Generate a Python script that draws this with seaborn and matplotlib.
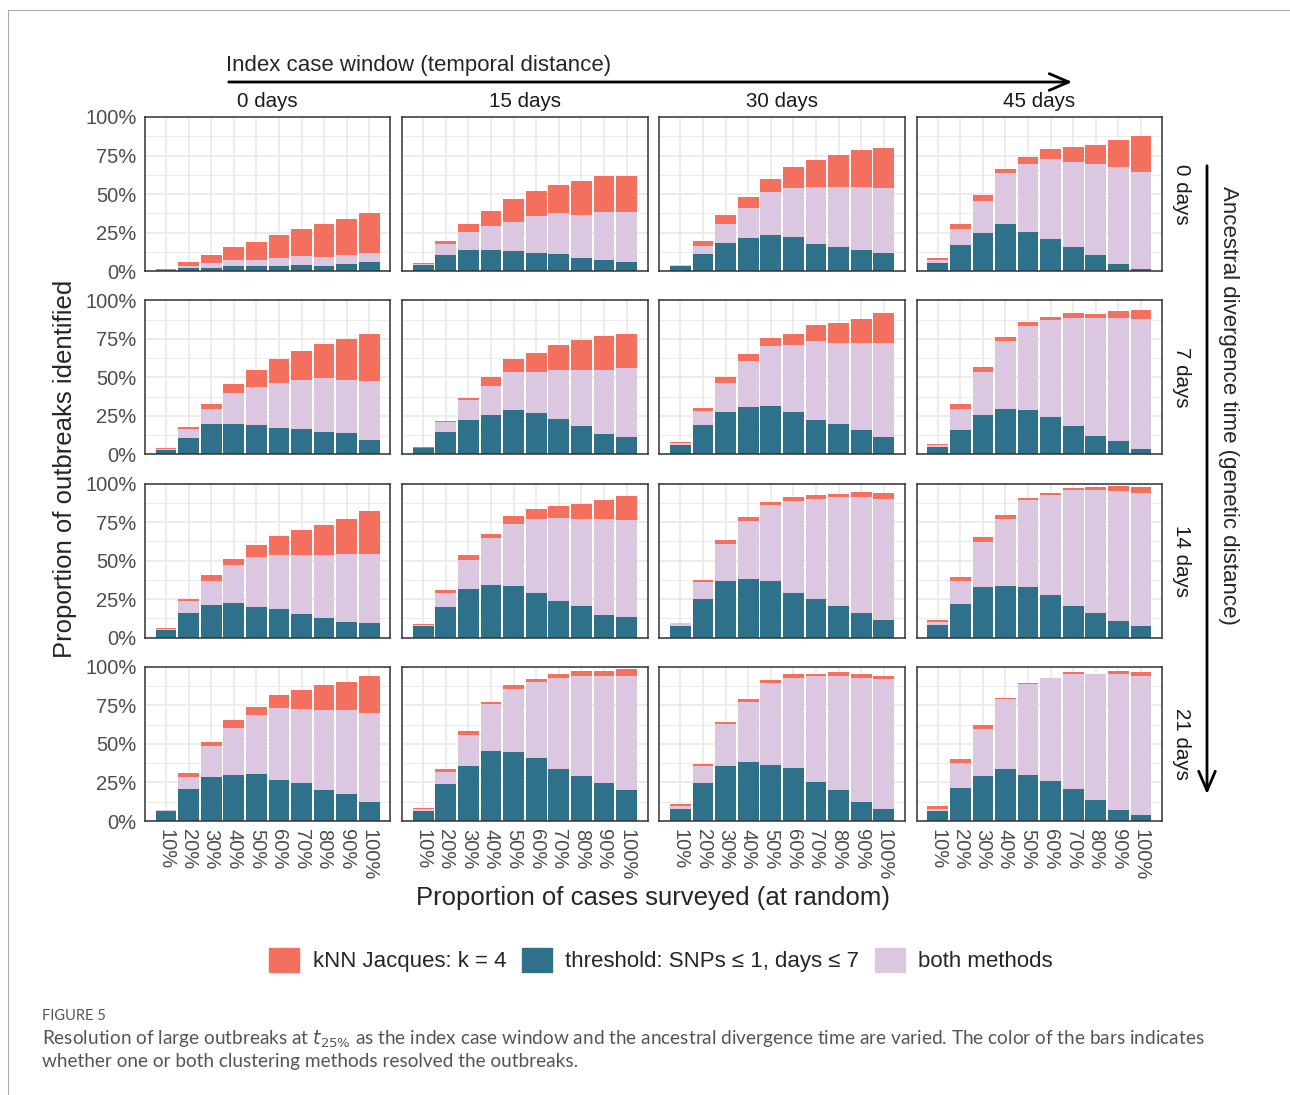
import matplotlib
matplotlib.use('Agg')
import matplotlib.pyplot as plt
import seaborn as sns
import pandas as pd
from matplotlib.patches import Patch, FancyArrowPatch
from matplotlib.lines import Line2D

sns.set_style('whitegrid')
plt.rcParams['font.family'] = ['Liberation Sans', 'DejaVu Sans']

windows = ['0 days', '15 days', '30 days', '45 days']          # index case window (columns)
divergences = ['0 days', '7 days', '14 days', '21 days']       # ancestral divergence (rows)
surveyed = ['10%', '20%', '30%', '40%', '50%', '60%', '70%', '80%', '90%', '100%']

# cumulative tops of each stacked segment (% of outbreaks), one list per window
# threshold only (bottom)
thr_div0 = [[0.5, 2.4, 2.4, 3.5, 3.5, 3.5, 4.1, 3.5, 4.8, 6.1],
            [4.1, 10.7, 13.9, 13.9, 13.3, 12.0, 11.3, 8.7, 7.4, 6.1],
            [3.5, 11.3, 18.5, 21.8, 23.7, 22.4, 17.9, 15.9, 13.9, 12.0],
            [5.4, 17.2, 25.1, 30.9, 25.7, 21.1, 15.9, 10.7, 4.8, 1.5]]
thr_div7 = [[2.8, 10.7, 19.8, 19.8, 19.2, 17.2, 16.6, 14.6, 13.9, 9.4],
            [4.1, 14.6, 22.4, 25.7, 29.0, 27.0, 23.1, 18.5, 13.3, 11.3],
            [6.1, 19.2, 27.7, 30.9, 31.6, 27.7, 22.4, 19.8, 15.9, 11.3],
            [4.8, 15.9, 25.7, 29.6, 29.0, 24.4, 18.5, 12.0, 8.7, 3.5]]
thr_div14 = [[5.2, 16.3, 21.5, 22.8, 20.2, 18.9, 15.7, 13.0, 10.4, 9.8],
             [7.8, 20.2, 31.3, 33.9, 33.3, 29.3, 24.1, 20.9, 15.0, 13.7],
             [7.8, 25.4, 36.5, 37.8, 36.5, 28.7, 24.8, 20.9, 16.3, 11.7],
             [8.5, 22.2, 32.6, 33.3, 32.6, 28.0, 20.9, 16.3, 11.1, 7.8]]
thr_div21 = [[6.8, 20.5, 28.3, 29.6, 30.3, 26.4, 24.4, 19.8, 17.2, 12.0],
             [6.8, 23.7, 35.5, 45.3, 44.7, 40.7, 33.6, 29.0, 24.4, 19.8],
             [8.1, 24.4, 35.5, 38.1, 36.2, 34.2, 25.1, 19.8, 12.0, 8.1],
             [6.8, 21.1, 29.0, 33.6, 29.6, 25.7, 20.5, 13.9, 7.4, 4.1]]

# threshold + both methods
both_div0 = [[0.8, 3.5, 5.4, 7.4, 7.4, 8.7, 10.0, 9.4, 10.7, 12.0],
             [4.4, 17.9, 25.7, 29.0, 32.2, 35.5, 37.5, 36.2, 38.1, 38.1],
             [4.1, 16.6, 30.9, 40.7, 51.2, 53.8, 54.5, 54.5, 54.5, 53.8],
             [7.4, 27.7, 45.3, 63.6, 69.5, 72.8, 70.8, 69.5, 67.5, 64.3]]
both_div7 = [[3.5, 16.6, 29.6, 40.1, 44.0, 46.6, 48.6, 49.9, 48.6, 47.9],
             [4.1, 21.1, 35.5, 44.7, 53.2, 53.8, 55.1, 55.1, 55.1, 55.8],
             [7.4, 28.3, 46.6, 60.3, 70.2, 70.8, 73.4, 72.1, 72.1, 72.1],
             [6.1, 29.6, 53.8, 73.4, 83.2, 87.1, 88.5, 88.5, 88.5, 87.8]]
both_div14 = [[5.9, 23.5, 36.5, 47.0, 52.2, 53.5, 53.5, 53.5, 54.1, 54.1],
              [8.5, 29.3, 50.2, 64.6, 73.7, 77.0, 77.6, 77.0, 77.0, 76.3],
              [9.8, 35.9, 60.7, 75.7, 86.1, 88.7, 90.0, 91.3, 91.3, 90.0],
              [10.4, 36.5, 62.0, 77.0, 89.3, 92.6, 96.1, 96.1, 95.2, 93.9]]
both_div21 = [[7.4, 28.3, 48.6, 60.3, 68.8, 73.4, 72.8, 72.1, 72.1, 70.2],
              [8.1, 31.6, 55.8, 76.0, 85.8, 90.4, 93.0, 93.7, 93.7, 94.3],
              [10.0, 35.5, 63.0, 77.3, 89.8, 93.0, 94.3, 93.7, 93.0, 92.4],
              [8.1, 37.5, 59.7, 79.3, 89.1, 93.0, 95.6, 95.0, 95.6, 94.3]]

# total (threshold + both + kNN only)
total_div0 = [[1.5, 6.1, 10.7, 15.9, 19.2, 23.7, 27.7, 30.3, 33.6, 37.5],
              [5.4, 19.8, 30.9, 38.8, 46.6, 51.9, 55.8, 58.4, 61.7, 61.7],
              [4.1, 19.8, 36.2, 47.9, 59.7, 67.5, 72.1, 75.4, 78.6, 80.0],
              [8.7, 30.9, 49.2, 66.2, 74.1, 79.3, 80.6, 81.9, 85.2, 87.8]]
total_div7 = [[4.1, 17.9, 32.9, 46.0, 54.5, 61.7, 66.9, 71.5, 74.7, 78.0],
              [4.8, 21.8, 36.8, 50.5, 61.7, 65.6, 70.8, 74.1, 76.7, 78.0],
              [8.1, 30.3, 50.5, 64.9, 75.4, 78.0, 83.9, 85.2, 87.8, 91.7],
              [6.8, 32.9, 56.4, 76.0, 85.8, 89.1, 91.7, 91.1, 93.0, 93.7]]
total_div14 = [[6.5, 24.8, 40.4, 50.9, 60.0, 65.9, 69.8, 73.0, 77.0, 82.2],
               [9.1, 30.7, 53.5, 67.2, 78.9, 83.5, 85.4, 86.7, 89.3, 92.0],
               [9.8, 37.2, 63.3, 78.3, 88.0, 91.3, 92.6, 93.3, 94.6, 93.9],
               [11.7, 39.1, 65.2, 79.6, 90.7, 93.9, 97.2, 97.8, 98.5, 97.8]]
total_div21 = [[7.4, 30.9, 51.2, 65.6, 74.1, 81.9, 85.2, 88.5, 90.4, 94.3],
               [8.7, 33.6, 58.4, 77.3, 88.5, 92.4, 95.0, 97.0, 97.0, 98.3],
               [10.7, 36.8, 64.3, 79.3, 91.7, 95.0, 95.6, 96.3, 95.6, 94.3],
               [10.0, 40.1, 62.3, 80.0, 89.8, 93.0, 96.3, 95.6, 97.0, 96.3]]

thr = [thr_div0, thr_div7, thr_div14, thr_div21]
both = [both_div0, both_div7, both_div14, both_div21]
total = [total_div0, total_div7, total_div14, total_div21]

KNN_COL = '#F3705F'
THR_COL = '#2F708A'
BOTH_COL = '#DCC7E0'

rows = []
for r, div in enumerate(divergences):
    for c, win in enumerate(windows):
        for k, pct in enumerate(surveyed):
            rows.append(dict(div=div, win=win, pct=pct, thr=thr[r][c][k],
                             both=both[r][c][k], total=total[r][c][k]))
df = pd.DataFrame(rows)

W, H = 1290, 1095
fig, axes = plt.subplots(4, 4, figsize=(W / 100, H / 100), dpi=100)
fig.subplots_adjust(left=145 / W, right=1162 / W, top=1 - 117 / H, bottom=1 - 821 / H,
                    wspace=12 / 246, hspace=29 / 154)

for r, div in enumerate(divergences):
    for c, win in enumerate(windows):
        ax = axes[r, c]
        sub = df[(df['div'] == div) & (df['win'] == win)]
        for col, colour in [('total', KNN_COL), ('both', BOTH_COL), ('thr', THR_COL)]:
            sns.barplot(data=sub, x='pct', y=col, order=surveyed, color=colour,
                        saturation=1, width=0.92, errorbar=None, linewidth=0, ax=ax)
        ax.set_xlim(-0.93, 9.93)
        ax.set_ylim(0, 100)
        ax.set_yticks([0, 25, 50, 75, 100])
        ax.set_yticks([12.5, 37.5, 62.5, 87.5], minor=True)
        ax.grid(False)
        ax.grid(which='major', color='#EBEBEB', lw=1.3)
        ax.grid(which='minor', axis='y', color='#EBEBEB', lw=0.7)
        ax.set_axisbelow(True)
        for s in ax.spines.values():
            s.set_visible(True)
            s.set_color('#333333')
            s.set_linewidth(1.1)
        ax.set_xlabel('')
        ax.set_ylabel('')
        ax.tick_params(which='minor', length=0)
        ax.tick_params(which='major', length=4, width=0.9, color='#333333',
                       labelsize=14.5, labelcolor='#4D4D4D', pad=2)
        if c == 0:
            ax.set_yticklabels(['0%', '25%', '50%', '75%', '100%'])
        else:
            ax.tick_params(axis='y', left=False, labelleft=False)
        if r == 3:
            ax.tick_params(axis='x', labelrotation=-90)
        else:
            ax.tick_params(axis='x', bottom=False, labelbottom=False)
        if r == 0:
            ax.set_title(win, fontsize=14.8, color='#1A1A1A', pad=7)
        if c == 3:
            ax.annotate(div, xy=(1, 0.5), xycoords='axes fraction', xytext=(7, 0),
                        textcoords='offset points', rotation=-90, va='center', ha='left',
                        fontsize=14.8, color='#1A1A1A')

fig.text(65 / W, 1 - 469 / H, 'Proportion of outbreaks identified', rotation=90,
         fontsize=18.5, ha='center', va='center')
fig.text(653 / W, 1 - 898 / H, 'Proportion of cases surveyed (at random)',
         fontsize=18.5, ha='center', va='center')

# direction arrows
fig.add_artist(FancyArrowPatch((226 / W, 1 - 82 / H), (1075 / W, 1 - 82 / H),
                               transform=fig.transFigure, color='black', lw=2,
                               arrowstyle='->,head_length=0.7,head_width=0.3', mutation_scale=20))
fig.text(226 / W, 1 - 66 / H, 'Index case window (temporal distance)', fontsize=16,
         ha='left', va='center')
fig.add_artist(FancyArrowPatch((1207 / W, 1 - 163 / H), (1207 / W, 1 - 797 / H),
                               transform=fig.transFigure, color='black', lw=2,
                               arrowstyle='->,head_length=0.7,head_width=0.3', mutation_scale=20))
fig.text(1228 / W, 1 - 405 / H, 'Ancestral divergence time (genetic distance)', rotation=-90,
         fontsize=16, ha='center', va='center')

handles = [Patch(color=KNN_COL, label='kNN Jacques: k = 4'),
           Patch(color=THR_COL, label='threshold: SNPs ≤ 1, days ≤ 7'),
           Patch(color=BOTH_COL, label='both methods')]
fig.legend(handles=handles, loc='center', bbox_to_anchor=(661 / W, 1 - 960 / H), ncol=3,
           frameon=False, fontsize=16, handlelength=1.35, handleheight=1.35,
           handletextpad=0.6, columnspacing=0.7)

# caption
cap_font = ['Lato', 'DejaVu Sans']
fig.text(42 / W, 1 - 1016 / H, 'FIGURE 5', fontsize=10.5, color='#555555', va='center',
         family=cap_font)
fig.text(42 / W, 1 - 1039 / H,
         'Resolution of large outbreaks at $t_{25\\%}$ as the index case window and the ancestral '
         'divergence time are varied. The color of the bars indicates',
         fontsize=13.7, color='#555555', va='center', family=cap_font)
fig.text(42 / W, 1 - 1062 / H, 'whether one or both clustering methods resolved the outbreaks.',
         fontsize=13.7, color='#555555', va='center', family=cap_font)

# card border
fig.add_artist(Line2D([8 / W, 8 / W], [0, 1 - 10 / H], transform=fig.transFigure,
                      color='#AAAAAA', lw=0.8))
fig.add_artist(Line2D([8 / W, 1], [1 - 10 / H, 1 - 10 / H], transform=fig.transFigure,
                      color='#AAAAAA', lw=0.8))

fig.savefig('out.png', dpi=100)
